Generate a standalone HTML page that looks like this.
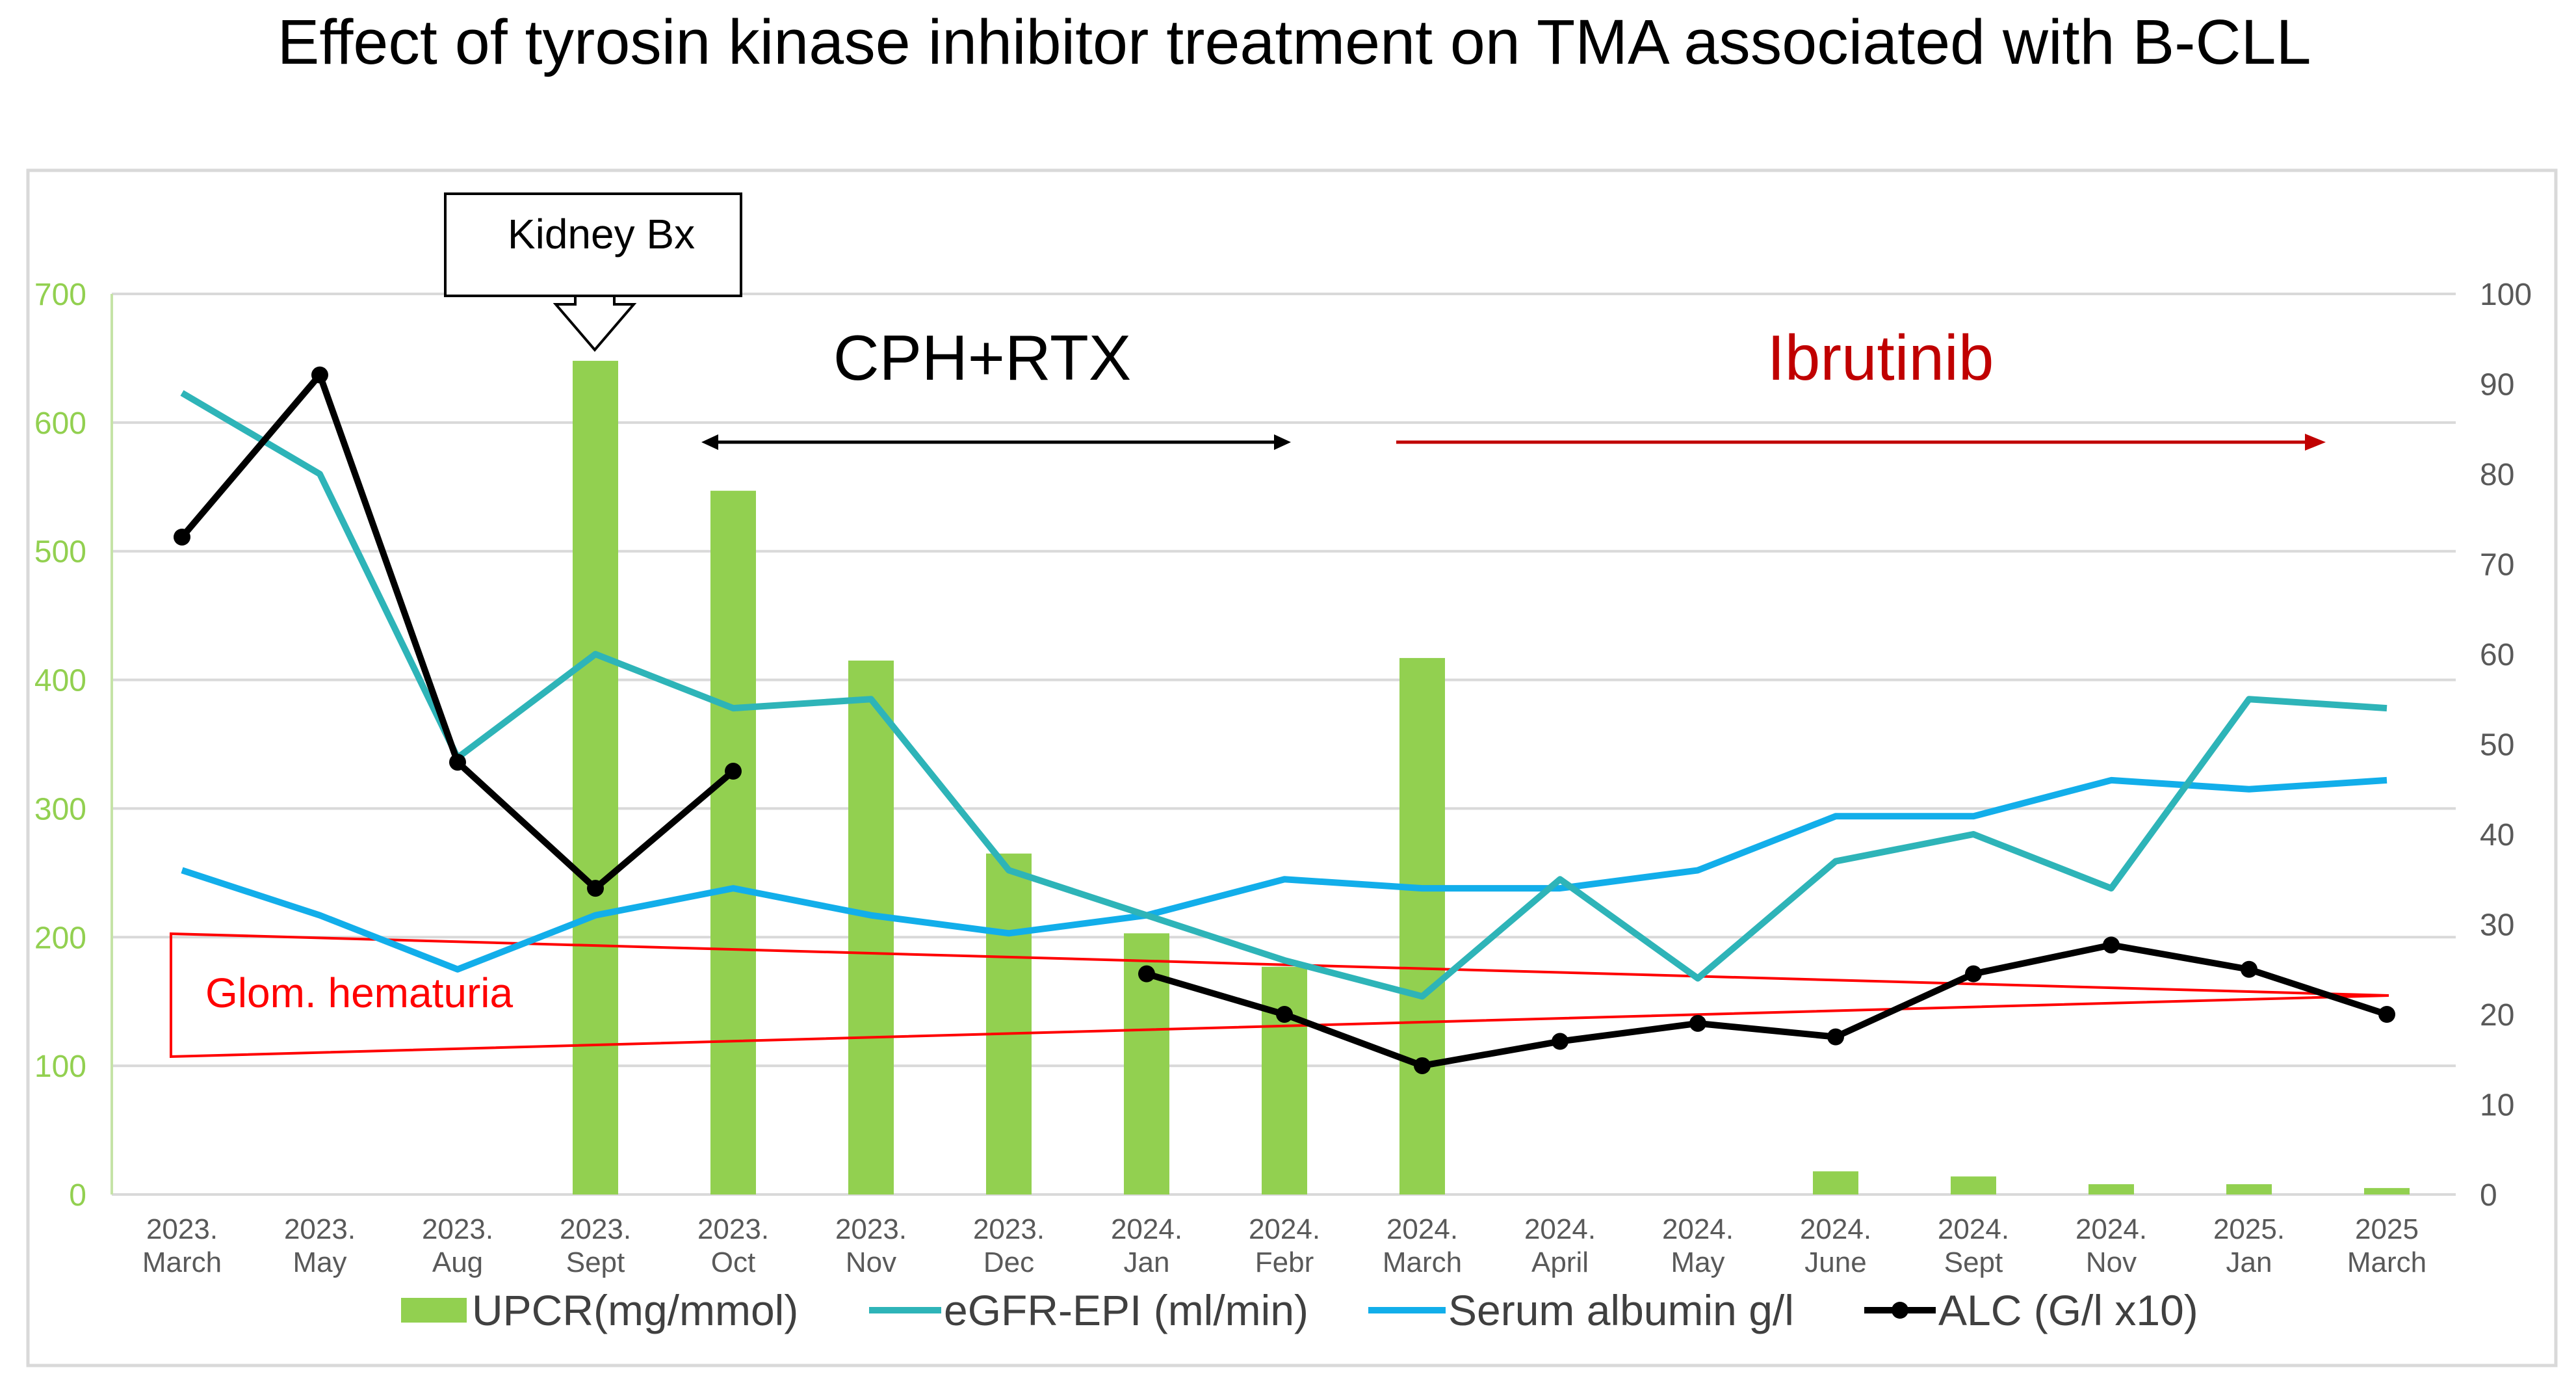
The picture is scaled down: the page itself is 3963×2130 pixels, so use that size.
<!DOCTYPE html>
<html><head><meta charset="utf-8"><style>
html,body{margin:0;padding:0;background:#fff;}
svg{display:block;font-family:"Liberation Sans",sans-serif;}
</style></head><body>
<svg id="chart" width="3963" height="2130" viewBox="0 0 3963 2130">
<text x="1991" y="98" font-size="97" text-anchor="middle" fill="#000">Effect of tyrosin kinase inhibitor treatment on TMA associated with B-CLL</text>
<rect x="43" y="262" width="3889" height="1838" fill="none" stroke="#d9d9d9" stroke-width="5"/>
<g id="grid"></g>
<g id="bars"></g>
<g id="hema">
<polygon points="263,1436 3675,1531 263,1625" fill="none" stroke="#ff0000" stroke-width="4"/>
<text x="316" y="1549" font-size="64" fill="#ff0000">Glom. hematuria</text>
</g>
<g id="lines"></g>
<g id="axes"></g>
<g>
<rect x="685" y="298" width="455" height="157" fill="#fff" stroke="#000" stroke-width="4"/>
<text x="925" y="382" font-size="64" text-anchor="middle" fill="#000">Kidney Bx</text>
<polygon points="885,455 945,455 945,468 975,468 915,538 855,468 885,468" fill="#fff" stroke="#000" stroke-width="4"/>
</g>
<text x="1511" y="584" font-size="98" text-anchor="middle" fill="#000">CPH+RTX</text>
<g>
<line x1="1095" y1="680" x2="1970" y2="680" stroke="#000" stroke-width="5"/>
<polygon points="1079,680 1105,668 1105,692" fill="#000"/>
<polygon points="1986,680 1960,668 1960,692" fill="#000"/>
</g>
<text x="2893" y="584" font-size="98" text-anchor="middle" fill="#c00000">Ibrutinib</text>
<g>
<line x1="2148" y1="680" x2="3550" y2="680" stroke="#c00000" stroke-width="5"/>
<polygon points="3578,680 3546,667 3546,693" fill="#c00000"/>
</g>
<g id="legend">
<g><rect x="617" y="1996" width="101" height="38" fill="#92d050"/><text x="726" y="2038" font-size="66" fill="#404040">UPCR(mg/mmol)</text></g>
<g><line x1="1337" y1="2015" x2="1448" y2="2015" stroke="#2eb4b8" stroke-width="10"/><text x="1452" y="2038" font-size="66" fill="#404040">eGFR-EPI (ml/min)</text></g>
<g><line x1="2105" y1="2015" x2="2224" y2="2015" stroke="#12aeea" stroke-width="10"/><text x="2228" y="2038" font-size="66" fill="#404040">Serum albumin g/l</text></g>
<g><line x1="2868" y1="2015" x2="2978" y2="2015" stroke="#000" stroke-width="10"/><circle cx="2923" cy="2015" r="13" fill="#000"/><text x="2982" y="2038" font-size="66" fill="#404040">ALC (G/l x10)</text></g>
</g>
</svg>
<script>
const categoriesYear = ["2023.","2023.","2023.","2023.","2023.","2023.","2023.","2024.","2024.","2024.","2024.","2024.","2024.","2024.","2024.","2025.","2025"];
const categoriesMonth = ["March","May","Aug","Sept","Oct","Nov","Dec","Jan","Febr","March","April","May","June","Sept","Nov","Jan","March"];
const upcr = [null,null,null,648,547,415,265,203,177,417,0,0,18,14,8,8,5];
const egfr = [89,80,48.5,60,54,55,36,31,26,22,35,24,37,40,34,55,54];
const albumin = [36,31,25,31,34,31,29,31,35,34,34,36,42,42,46,45,46];
const alc = [73,91,48,34,47,null,null,24.5,20,14.3,17,19,17.5,24.5,27.7,25,20];
const leftTicks = [0,100,200,300,400,500,600,700];
const rightTicks = [0,10,20,30,40,50,60,70,80,90,100];

const NS = "http://www.w3.org/2000/svg";
const x0 = 280, x1 = 3672, yB = 1837, yT = 452, plotL = 172, plotR = 3778;
function xPos(i){ return x0 + i*(x1-x0)/(categoriesMonth.length-1); }
function yLeft(v){ return yB - v/700*(yB-yT); }
function yRight(v){ return yB - v/100*(yB-yT); }
function mk(tag, attrs, parent){ const e=document.createElementNS(NS,tag); for(const k in attrs) e.setAttribute(k,attrs[k]); parent.appendChild(e); return e; }

const grid = document.getElementById('grid');
leftTicks.forEach(t=>{
  const l = mk('line',{x1:plotL,x2:plotR,y1:yLeft(t),y2:yLeft(t),stroke:'#d9d9d9','stroke-width':4},grid);
  
  
});
const axes = document.getElementById('axes');
const ax = mk('line',{x1:plotL,x2:plotL,y1:yT,y2:yB,stroke:'#c5e3a6','stroke-width':4},axes);


leftTicks.forEach(t=>{
  const tx = mk('text',{x:133,y:yLeft(t)+17,'font-size':48,'text-anchor':'end',fill:'#92d050'},axes);
  tx.textContent = t;
  
  
});
rightTicks.forEach(t=>{
  const tx = mk('text',{x:3815,y:yRight(t)+17,'font-size':48,'text-anchor':'start',fill:'#595959'},axes);
  tx.textContent = t;
  
  
});
categoriesMonth.forEach((m,i)=>{
  const a = mk('text',{x:xPos(i),y:1905,'font-size':44,'text-anchor':'middle',fill:'#595959'},axes);
  a.textContent = categoriesYear[i];
  
  
  const b = mk('text',{x:xPos(i),y:1956,'font-size':44,'text-anchor':'middle',fill:'#595959'},axes);
  b.textContent = m;
  
  
});
const bars = document.getElementById('bars');
upcr.forEach((v,i)=>{
  if(v===null) return;
  const r = mk('rect',{x:xPos(i)-35,y:yLeft(v),width:70,height:yB-yLeft(v),fill:'#92d050'},bars);
  
  
});
const lines = document.getElementById('lines');
function drawLine(arr,color,name){
  let segs=[],cur=[];
  arr.forEach((v,i)=>{ if(v===null){ if(cur.length) segs.push(cur); cur=[]; } else cur.push(xPos(i)+','+yRight(v)); });
  if(cur.length) segs.push(cur);
  segs.forEach(s=>{
    const p = mk('polyline',{points:s.join(' '),fill:'none',stroke:color,'stroke-width':10,'stroke-linejoin':'round'},lines);
    
    
  });
}
drawLine(albumin,'#12aeea','albumin-line');
drawLine(egfr,'#2eb4b8','egfr-line');
drawLine(alc,'#000','alc-line');
alc.forEach((v,i)=>{
  if(v===null) return;
  const c = mk('circle',{cx:xPos(i),cy:yRight(v),r:13,fill:'#000'},lines);
  
  
});
</script>
</body></html>
